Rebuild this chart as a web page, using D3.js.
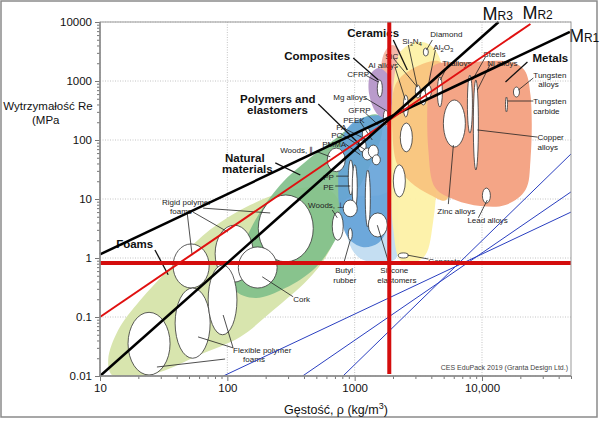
<!DOCTYPE html>
<html>
<head>
<meta charset="utf-8">
<script src="https://d3js.org/d3.v7.min.js"></script>
<style>
  body { margin: 0; background: #fff; }
  svg { display: block; font-family: "Liberation Sans", Arial, sans-serif; }
</style>
</head>
<body>
<svg id="chart" width="600" height="421"></svg>
<script>
// ---- data (density kg/m3, strength MPa) ----
const xTickValues = [10, 100, 1000, 10000]
const xTickLabels = ['10', '100', '1000', '10,000']
const yTickValues = [0.01, 0.1, 1, 10, 100, 1000, 10000]
const yTickLabels = ['0.01', '0.1', '1', '10', '100', '1000', '10000']

const foamsEnvelope = [[11.6, 0.019], [13.9, 0.06], [20.6, 0.19], [35.5, 0.68], [73, 3.0], [151, 7.9], [312, 14.2], [587, 15.3], [745, 9.6], [745, 3.2], [587, 1.0], [424, 0.42], [229, 0.13], [126, 0.046], [61, 0.023], [29.6, 0.0117], [17.2, 0.0092], [12.4, 0.0104]]
const naturalEnvelope = [[115, 0.29], [122, 0.92], [166, 4.4], [260, 17.3], [448, 50], [771, 122], [1148, 236], [1534, 265], [1649, 148], [1327, 38], [923, 7.9], [703, 2.0], [490, 0.68], [285, 0.31], [166, 0.21]]
const elastomersEnvelope = [[843, 9.6], [891, 2.0], [1067, 1.04], [1590, 0.82], [2120, 1.0], [2200, 3.6], [2085, 14.2], [1590, 11.7]]
const polymersEnvelope = [[790, 100], [923, 180], [1212, 245], [1740, 245], [1976, 122], [1976, 21], [1837, 3.6], [1534, 1.8], [1148, 1.54], [891, 2.18], [771, 5.4], [743, 21]]
const lightAlloysEnvelope = [[1680, 2760], [1976, 4080], [2370, 2760], [2410, 218], [1976, 137], [1680, 236]]
const compositesEnvelope = [[1327, 1260], [1534, 1660], [1837, 1260], [1976, 579], [1905, 236], [1534, 265], [1303, 579]]
const ceramicsEnvelope = [[2085, 1540], [2282, 3100], [2995, 4580], [3930, 4080], [4710, 2270], [4884, 476], [4544, 46], [4150, 4.4], [3589, 1.12], [2838, 0.82], [2282, 0.92], [2012, 3.0], [1905, 68]]
const techCeramicsEnvelope = [[2085, 855], [2737, 1540], [4710, 2100], [5250, 218], [5250, 9.6], [3930, 11.7], [2737, 19.4], [2162, 38], [1976, 148]]
const metalsEnvelope = [[4150, 1800], [8110, 2100], [16730, 2100], [21500, 1540], [24030, 579], [24030, 46], [21930, 14.2], [15290, 7.9], [9710, 7.6], [6180, 9.6], [4305, 15.3], [3791, 68], [3791, 703]]

// bubbles: [name, rho min, rho max, strength min, strength max]
const bubbles = [
  ['rigid1', 37.5, 72, 0.31, 1.73],
  ['rigid2', 80.2, 160, 0.39, 3.6],
  ['flex1', 16.6, 35.5, 0.0104, 0.12],
  ['flex2', 38.9, 73.3, 0.020, 0.31],
  ['flex3', 70.7, 119, 0.050, 0.76],
  ['rigid3', 175, 473, 0.86, 11.7],
  ['cork', 122, 246, 0.31, 1.54],
  ['woodPar', 609, 843, 29, 73],
  ['woodPerp', 667, 813, 2.0, 6.0],
  ['PP', 891, 975, 11.7, 46],
  ['PE2', 957, 1048, 6.5, 38],
  ['PE', 813, 1048, 5.0, 9.6],
  ['elast', 1212, 1327, 3.35, 31],
  ['silicone', 1280, 1805, 2.27, 5.8],
  ['butyl', 891, 957, 2.0, 3.2],
  ['PA', 1148, 1327, 100, 160],
  ['PMMA', 1067, 1230, 63, 100],
  ['PC', 1148, 1375, 46, 73],
  ['PEEK', 1280, 1534, 50, 82],
  ['PS', 1375, 1590, 38, 56],
  ['CFRP', 1506, 1649, 535, 1040],
  ['Mg', 1680, 1837, 180, 322],
  ['glass', 2282, 2838, 63, 194],
  ['stone', 2012, 2500, 10.8, 38],
  ['Al', 2410, 2640, 245, 579],
  ['SiC', 2995, 3280, 515, 855],
  ['Si3N4', 3280, 3650, 392, 703],
  ['Al2O3', 3590, 4000, 515, 855],
  ['diamond', 3460, 3790, 2650, 3620],
  ['Ti', 4462, 4884, 362, 1170],
  ['zinc', 4975, 7400, 76, 476],
  ['steel', 7680, 8410, 131, 1260],
  ['copper', 8550, 9370, 31, 1040],
  ['WC', 15290, 15850, 299, 535],
  ['W', 17660, 19690, 535, 790],
  ['lead', 10070, 11640, 8.5, 15.3],
  ['concrete', 2202, 2640, 1.0, 1.22]
]

// family labels and material labels: [text, rho (left), strength (baseline)]
const familyLabels = [
  ['Ceramics', 875, 5570], ['Composites', 280, 2270], ['Polymers and', 126, 424], ['elastomers', 143, 276],
  ['Natural', 96, 42.4], ['materials', 91, 27.6], ['Foams', 13.4, 1.48], ['Metals', 24900, 2100]
]
const materialLabels = [
  ['Rigid polymer', 30.7, 7.9], ['foams', 35.5, 5.6], ['Cork', 329, 0.18], ['Flexible polymer', 111, 0.0245],
  ['foams', 133, 0.0173], ['Woods, \u2225', 260, 60], ['Woods, \u22a5', 431, 7.0], ['PA', 716, 148], ['PC', 655, 108],
  ['PMMA', 556, 76], ['PEEK', 813, 194], ['GFRP', 891, 287], ['Mg alloys', 679, 476], ['CFRP', 875, 1170],
  ['Al alloys', 1280, 1660], ['SiC', 1740, 2400], ['PP', 566, 21], ['PE', 566, 14.2], ['Butyl', 703, 0.56],
  ['rubber', 679, 0.377], ['Silicone', 1590, 0.56], ['elastomers', 1506, 0.377], ['Concrete', 3791, 0.79],
  ['Zinc alloys', 4462, 5.6], ['Lead alloys', 7680, 3.9], ['Copper', 27300, 100], ['alloys', 27300, 68],
  ['Tungsten', 25300, 1125], ['alloys', 27700, 790], ['Tungsten', 25300, 408], ['carbide', 25300, 276],
  ['Steels', 10250, 2550], ['Ni alloys', 11000, 1800], ['Ti alloys', 4884, 1800], ['Diamond', 3930, 5570],
  ['Al_2O_3', 4150, 3350], ['Si_3N_4', 2366, 4240]
]

const familyLeaders = [
  [[975, 2450], [1534, 1040]], [[2012, 4950], [2593, 1540]], [[518, 408], [1107, 82]],
  [[238, 41], [374, 25.5]], [[27, 1.37], [34.3, 0.52]], [[22740, 2100], [15290, 962]]
]
const materialLeaders = [
  [[48.3, 6.0], [52.9, 1.12]], [[53.8, 6.0], [101, 2.76]], [[64.5, 7.0], [217, 5.8]],
  [[111, 0.030], [58.9, 0.046]], [[111, 0.030], [92.7, 0.108]], [[96, 0.0194], [28, 0.0142]],
  [[329, 0.22], [188, 0.48]], [[499, 64], [643, 52]], [[667, 6.5], [730, 4.8]],
  [[813, 160], [1257, 100]], [[785, 127], [1212, 68]], [[843, 86], [1107, 56]],
  [[1107, 202], [1375, 100]], [[1212, 287], [1534, 180]], [[1212, 515], [1740, 322]],
  [[1212, 1260], [1534, 962]], [[2085, 1660], [2500, 476]], [[2012, 2430], [3105, 790]],
  [[2640, 4080], [3105, 790]], [[4305, 3350], [3791, 855]], [[4070, 4950], [3660, 3350]],
  [[5350, 1800], [4710, 1040]], [[10640, 2550], [8410, 1040]], [[11640, 1940], [9200, 703]],
  [[25300, 1125], [19300, 703]], [[25300, 458], [15850, 458]], [[27300, 112], [9200, 148]],
  [[5440, 8.2], [5960, 82]], [[9370, 4.8], [11000, 9.6]], [[3791, 0.96], [2593, 1.12]],
  [[813, 0.76], [923, 2.0]], [[1905, 0.68], [1506, 3.6]], [[716, 24.4], [891, 24.4]], [[703, 16.6], [923, 16.6]]
]

// material index lines: [name, start, end]
const indexLines = [
  ['MR1', [10, 1.15], [49000, 6800]],
  ['MR2', [10, 0.1], [24000, 9250]],
  ['MR3', [10, 0.01], [13500, 10000]]
]
const blueLines = [
  [[93, 0.01], [50000, 6.0]],
  [[390, 0.01], [50000, 13.2]],
  [[810, 0.01], [50000, 58]]
]
const strengthLimit = 0.82
const densityLimit = 1870

// ---- layout ----
const svg = d3.select('#chart')
const x = d3.scaleLog().domain([10, 50000]).range([100, 571])
const y = d3.scaleLog().domain([0.01, 10000]).range([376, 22])
const [x0, x1] = x.range()
const [y1, y0] = y.range()

const envStyle = [
  [foamsEnvelope, '#d8e5ae', 1],
  [naturalEnvelope, '#7fbf8a', 0.9],
  [elastomersEnvelope, '#c4def2', 1],
  [polymersEnvelope, '#64a2d8', 0.9],
  [lightAlloysEnvelope, '#f2b0a0', 0.9],
  [compositesEnvelope, '#b99bcb', 1],
  [ceramicsEnvelope, '#fdf1a6', 0.95],
  [techCeramicsEnvelope, '#f9c47e', 0.95],
  [metalsEnvelope, '#f4a586', 1]
]

svg.append('rect').attr('x', 1).attr('y', 1).attr('width', 596).attr('height', 416)
  .attr('fill', '#fff').attr('stroke', '#8a8a8a').attr('stroke-width', 1.5)

svg.append('defs').append('clipPath').attr('id', 'plot')
  .append('rect').attr('x', x0).attr('y', y0).attr('width', x1 - x0).attr('height', y1 - y0)

// grid
const grid = svg.append('g').attr('stroke', '#c4c4c4').attr('stroke-dasharray', '1,1.5')
grid.selectAll('.gx').data(xTickValues).join('line')
  .attr('x1', d => x(d)).attr('x2', d => x(d)).attr('y1', y0).attr('y2', y1)
grid.selectAll('.gy').data(yTickValues).join('line')
  .attr('y1', d => y(d)).attr('y2', d => y(d)).attr('x1', x0).attr('x2', x1)

const plot = svg.append('g').attr('clip-path', 'url(#plot)')

const area = d3.line().x(d => x(d[0])).y(d => y(d[1]))
  .curve(d3.curveCatmullRomClosed.alpha(0.5))
plot.selectAll('path.env').data(envStyle).join('path')
  .attr('class', 'env')
  .attr('d', d => area(d[0]))
  .attr('fill', d => d[1]).attr('fill-opacity', d => d[2])

plot.selectAll('ellipse').data(bubbles).join('ellipse')
  .attr('cx', d => (x(d[1]) + x(d[2])) / 2)
  .attr('cy', d => (y(d[3]) + y(d[4])) / 2)
  .attr('rx', d => Math.max(1, (x(d[2]) - x(d[1])) / 2))
  .attr('ry', d => (y(d[3]) - y(d[4])) / 2)
  .attr('fill', '#fff').attr('stroke', '#333').attr('stroke-width', 0.8)

const seg = d => `M${x(d[0][0])},${y(d[0][1])}L${x(d[1][0])},${y(d[1][1])}`
svg.append('g').selectAll('path').data(materialLeaders).join('path')
  .attr('d', seg).attr('stroke', '#222').attr('stroke-width', 0.8).attr('fill', 'none')
svg.append('g').selectAll('path').data(familyLeaders).join('path')
  .attr('d', seg).attr('stroke', '#111').attr('stroke-width', 1.3).attr('fill', 'none')

function richText(sel, str) {
  const parts = str.split(/(_\d)/).filter(p => p)
  let shifted = false
  parts.forEach(p => {
    if (p[0] === '_') {
      sel.append('tspan').attr('dy', 2).attr('font-size', '6px').text(p[1])
      shifted = true
    } else {
      sel.append('tspan').attr('dy', shifted ? -2 : 0).text(p)
      shifted = false
    }
  })
}

svg.append('g').selectAll('text').data(materialLabels).join('text')
  .attr('x', d => x(d[1])).attr('y', d => y(d[2]))
  .attr('font-size', '8px').attr('fill', '#222')
  .each(function (d) { richText(d3.select(this), d[0]) })

svg.append('g').selectAll('text').data(familyLabels).join('text')
  .attr('x', d => x(d[1])).attr('y', d => y(d[2]))
  .attr('font-size', '11.5px').attr('font-weight', 'bold').attr('fill', '#111')
  .text(d => d[0])

// limit and index lines
const lim = svg.append('g').attr('clip-path', 'url(#plot)')
lim.selectAll('path').data(blueLines).join('path')
  .attr('d', seg).attr('stroke', '#2a3fc0').attr('stroke-width', 1).attr('fill', 'none')

const idxColor = {MR1: '#000', MR2: '#e01010', MR3: '#000'}
const idxWidth = {MR1: 2.5, MR2: 2, MR3: 2.5}
svg.append('g').selectAll('path').data(indexLines).join('path')
  .attr('d', d => seg([d[1], d[2]]))
  .attr('stroke', d => idxColor[d[0]]).attr('stroke-width', d => idxWidth[d[0]]).attr('fill', 'none')

lim.append('line')
  .attr('x1', x0).attr('x2', x1).attr('y1', y(strengthLimit)).attr('y2', y(strengthLimit))
  .attr('stroke', '#d40d0d').attr('stroke-width', 4)
lim.append('line')
  .attr('x1', x(densityLimit)).attr('x2', x(densityLimit)).attr('y1', y0).attr('y2', y1 - 2)
  .attr('stroke', '#d40d0d').attr('stroke-width', 4)

const idxOffset = {MR1: [-1, 10], MR2: [-8, -5], MR3: [-16, -2]}
indexLines.forEach(d => {
  const t = svg.append('text')
    .attr('x', x(d[2][0]) + idxOffset[d[0]][0]).attr('y', y(d[2][1]) + idxOffset[d[0]][1])
    .attr('font-size', '18px').attr('fill', '#111').text('M')
  t.append('tspan').attr('font-size', '12px').text(d[0].slice(1))
})

// axes
const minorX = x.ticks().filter(v => !xTickValues.includes(v))
const minorY = y.ticks().filter(v => !yTickValues.includes(v))

const xAxis = svg.append('g').attr('transform', `translate(0,${y1})`)
xAxis.call(d3.axisBottom(x).tickValues(xTickValues).tickSize(5)
  .tickFormat((d, i) => xTickLabels[i]))
xAxis.append('g').call(d3.axisBottom(x).tickValues(minorX).tickSize(3).tickFormat(''))
const yAxis = svg.append('g').attr('transform', `translate(${x0},0)`)
yAxis.call(d3.axisLeft(y).tickValues(yTickValues).tickSize(5)
  .tickFormat((d, i) => yTickLabels[i]))
yAxis.append('g').call(d3.axisLeft(y).tickValues(minorY).tickSize(3).tickFormat(''))
svg.selectAll('.domain').remove()
svg.selectAll('.tick line').attr('stroke', '#777')
svg.selectAll('.tick text').attr('font-family', '"Liberation Sans", Arial, sans-serif')
  .attr('font-size', '11.5px').attr('fill', '#111')

svg.append('rect').attr('x', x0).attr('y', y0).attr('width', x1 - x0).attr('height', y1 - y0)
  .attr('fill', 'none').attr('stroke', '#999').attr('stroke-width', 1)
svg.append('line').attr('x1', x0).attr('x2', x0).attr('y1', y0).attr('y2', y1)
  .attr('stroke', '#888').attr('stroke-width', 1.5)
svg.append('line').attr('x1', x0).attr('x2', x1).attr('y1', y1).attr('y2', y1)
  .attr('stroke', '#888').attr('stroke-width', 1.5)

// titles
svg.append('text').attr('x', 48).attr('y', 110).attr('text-anchor', 'middle')
  .attr('font-size', '11.5px').attr('fill', '#111').text('Wytrzyma\u0142o\u015b\u0107 Re')
svg.append('text').attr('x', 32).attr('y', 124)
  .attr('font-size', '11.5px').attr('fill', '#111').text('(MPa')
const xt = svg.append('text').attr('x', 336).attr('y', 414).attr('text-anchor', 'middle')
  .attr('font-size', '12.5px').attr('fill', '#111')
xt.append('tspan').text('G\u0119sto\u015b\u0107, \u03c1  (kg/m')
xt.append('tspan').attr('dy', -5).attr('font-size', '9px').text('3')
xt.append('tspan').attr('dy', 5).text(')')

svg.append('text').attr('x', 568).attr('y', 370).attr('text-anchor', 'end')
  .attr('font-size', '7px').attr('fill', '#444').text('CES EduPack 2019 (Granta Design Ltd.)')
</script>
</body>
</html>
